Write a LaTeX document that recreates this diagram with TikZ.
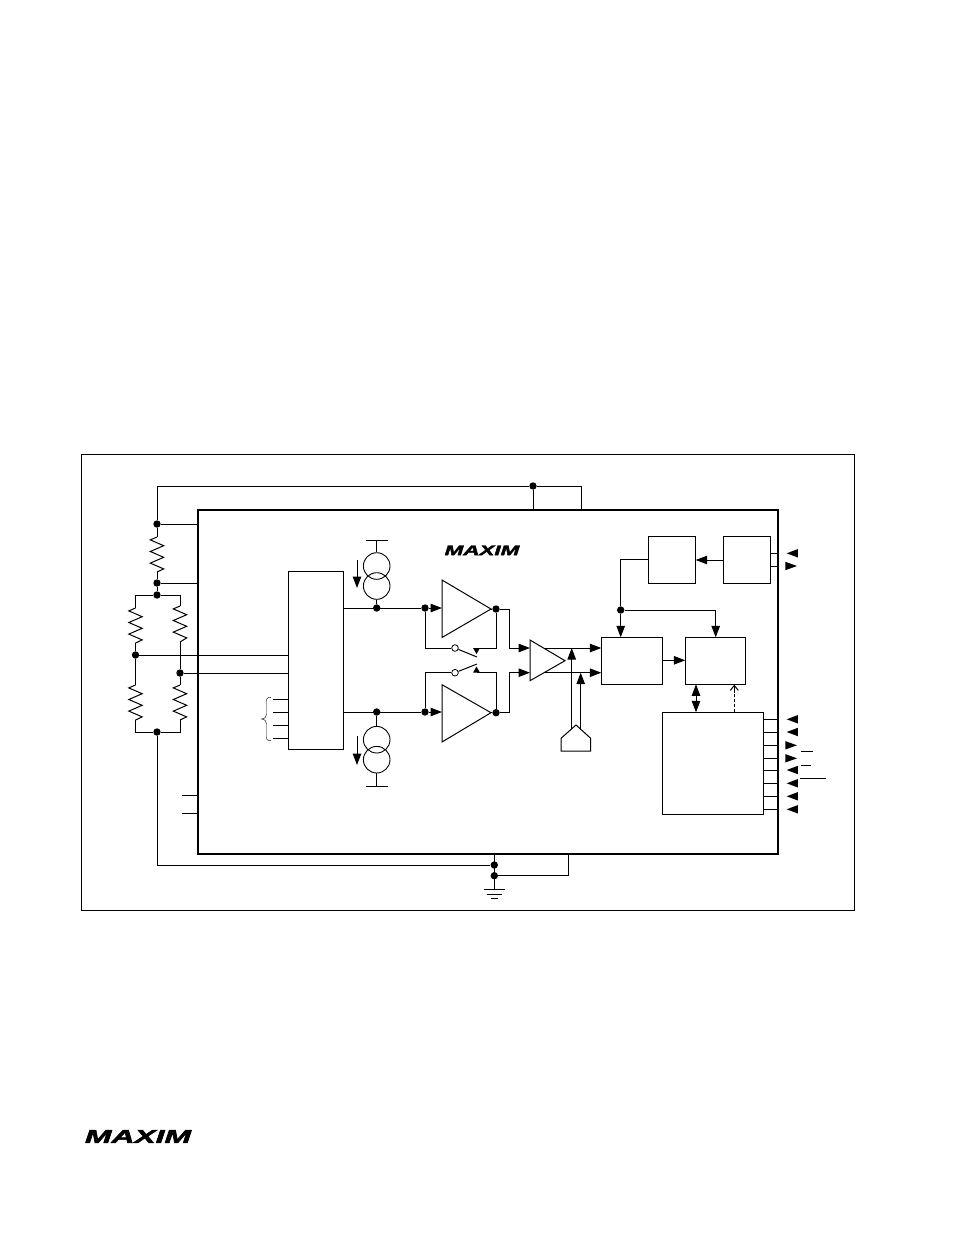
\documentclass[tikz,border=0pt]{standalone}
\usepackage{fontspec}
\setmainfont{Liberation Sans}
\newfontfamily\logofont[UprightFont={* Bold Italic},FakeBold=2.2]{Liberation Sans}
\usetikzlibrary{arrows.meta,calc}
\newcommand{\pinIn}[2][]{\fill (786.7,#2) -- (797.8,#2-4.2) -- (797.8,#2+4.2) -- cycle;}
\newcommand{\pinOut}[2][]{\fill (797,#2) -- (785.3,#2-4.2) -- (785.3,#2+4.2) -- cycle;}
\newcommand{\zig}[3]{% x, y top, y bottom : resistor of six half waves
  \draw[wire] (#1,#2) -- ++(-6.7,2.9) -- ++(13.4,5.8) -- ++(-13.4,5.8) -- ++(13.4,5.8) -- ++(-13.4,5.8) -- ++(13.4,5.8) -- (#1,#3);}
\tikzset{
  x=1pt,y=-1pt,
  wire/.style={line width=1pt,line join=miter},
  chipline/.style={line width=2.2pt},
  blk/.style={draw,line width=1pt,inner sep=0pt,outer sep=0pt,anchor=north west},
  arr/.style={wire,-{Triangle[length=11.5pt,width=8.5pt]}},
  dbl/.style={wire,{Triangle[length=11.5pt,width=8.5pt]}-{Triangle[length=11.5pt,width=8.5pt]}},
  dot/.style={circle,fill,inner sep=0pt,minimum size=7.4pt},
  hollow/.style={circle,draw,fill=white,line width=0.8pt,inner sep=0pt,minimum size=6.6pt},
  thincircle/.style={circle,draw,line width=0.9pt,inner sep=0pt,minimum size=26.6pt},
}
\begin{document}
\begin{tikzpicture}
\useasboundingbox (0,0) rectangle (954,1235);
\node[blk,line width=0.7pt,minimum width=773.5pt,minimum height=456pt] (frame) at (81.1,454) {};
\node[blk,chipline,minimum width=580pt,minimum height=344pt] (chip) at (198,510) {};
\node[blk,minimum width=55.5pt,minimum height=178pt] (mux) at (288,571) {};
\node[blk,minimum width=47.7pt,minimum height=47.3pt] (A) at (648,536) {};
\node[blk,minimum width=47.3pt,minimum height=47.3pt] (B) at (723,536) {};
\node[blk,minimum width=61.4pt,minimum height=47pt] (C) at (601.3,637.3) {};
\node[blk,minimum width=60pt,minimum height=47pt] (D) at (685.3,637.3) {};
\node[blk,minimum width=101.4pt,minimum height=102pt] (E) at (662.3,712.3) {};
% logos
\node (logoA) at (482,550.3) {\fontsize{14}{14}\selectfont\logofont\scalebox{1.6}[1]{MAXIM}};
\node (logoB) at (138,1136.5) {\fontsize{18.5}{18}\selectfont\logofont\scalebox{1.72}[1]{MAXIM}};
% outer sensor wiring
\node[dot] (j1) at (533,486) {};
\node[dot] (j2) at (157,524) {};
\node[dot] (j3) at (157,583) {};
\node[dot] (j4) at (157,595) {};
\node[dot] (j5) at (135.5,655) {};
\node[dot] (j6) at (180,673) {};
\node[dot] (j7) at (157,732) {};
\node[dot] (j8) at (494.3,865) {};
\node[dot] (j9) at (494.3,875.7) {};
\draw[wire] (j2) |- (j1) -| (581,510);
\draw[wire] (j1) -- (533,510);
\draw[wire] (j2) -- (198,524);
\draw[wire] (j3) -- (198,583);
\draw[wire] (j2) -- (157,537) (157,572) -- (j3) -- (j4);
\zig{157}{537}{572}
\draw[wire] (135.5,608) |- (j4) -| (180,606);
\zig{135.5}{608}{643}
\zig{180}{606}{642}
\draw[wire] (135.5,643) -- (j5) -- (135.5,685);
\draw[wire] (180,642) -- (j6) -- (180,685);
\zig{135.5}{685}{720}
\zig{180}{685}{720}
\draw[wire] (135.5,720) |- (j7) -| (180,720);
\draw[wire] (j5) -- (j5 -| mux.west);
\draw[wire] (j6) -- (j6 -| mux.west);
\draw[wire] (j7) |- (j8);
\draw[wire] (j8 |- chip.south) -- (494.3,889);
\draw[wire] (j9) -| (568,854);
\draw[wire] (484,889) -- (505,889) (486.7,894) -- (502.3,894) (490.7,898) -- (498,898);
\draw[wire] (182.3,795) -- (198,795) (182.3,813.3) -- (198,813.3);
% mux stubs and brace
\foreach \yy in {699,712,725,738} \draw[wire] (273,\yy) -- (288,\yy);
\draw[line width=0.4pt] (271,697.3) .. controls (266,697.3) and (266.5,699) .. (266.5,704) -- (266.5,714) .. controls (266.5,717) and (265,718.5) .. (261.5,719) .. controls (265,719.5) and (266.5,721) .. (266.5,724) -- (266.5,734) .. controls (266.5,739) and (266,740.7) .. (271,740.7);
% current sources
\node[thincircle] (s1) at (376.7,566) {};
\node[thincircle] (s2) at (376.7,586) {};
\node[thincircle] (s3) at (376.7,739.7) {};
\node[thincircle] (s4) at (376.7,759.7) {};
\node[dot] (n1) at (376.7,608) {};
\node[dot] (n2) at (376.7,712) {};
\node[dot] (n3) at (425,608) {};
\node[dot] (n4) at (425,712) {};
\draw[wire] (376.7,540) -- (s1.north) (366,540) -- (387.5,540);
\draw[wire] (s2.south) -- (n1);
\draw[wire] (n2) -- (s3.north);
\draw[wire] (s4.south) -- (376.7,786) (366,786) -- (387.5,786);
\draw[arr] (357,560) -- (357,588);
\draw[arr] (357,736) -- (357,765);
\draw[wire] (343.5,608) -- (n3);
\draw[wire] (343.5,712) -- (n4);
% amplifiers
\coordinate (a1in) at (442,608.5);
\coordinate (a2in) at (442,712.5);
\coordinate (a1o) at (491,609);
\coordinate (a2o) at (491,712.7);
\draw[wire] (442,580) -- (a1o) -- (442,637.5) -- cycle;
\draw[wire] (442,684.7) -- (a2o) -- (442,742) -- cycle;
\node[dot] (o1) at (496,609) {};
\node[dot] (o2) at (496,712.7) {};
\draw[arr] (n3) -- (n3 -| a1in);
\draw[arr] (n4) -- (n4 -| a2in);
\draw[wire] (a1o) -- (o1);
\draw[wire] (a2o) -- (o2);
% switches
\node[hollow] (sw1) at (455,648) {};
\node[hollow] (sw2) at (455,672.7) {};
\draw[wire] (n3) |- (sw1);
\draw[wire] (n4) |- (sw2);
\draw[wire] (sw1) -- (477,657);
\draw[wire] (sw2) -- (477,664);
\draw[wire] (o1) |- (476.5,648);
\draw[wire] (o2) |- (476.5,672.7);
\fill (473,648) -- (480,648) -- (476.5,654) -- cycle;
\fill (473,672.7) -- (480,672.7) -- (476.5,666.5) -- cycle;
% gain stage
\coordinate (g1) at (530,640);
\coordinate (g2) at (530,680.7);
\coordinate (g3) at (565,660.7);
\draw[wire] (g1) -- (g3) -- (g2) -- cycle;
\draw[arr] (o1) -| (509,648) -- (530,648);
\draw[arr] (o2) -| (509,672.7) -- (530,672.7);
\draw[arr] (543.5,648) -- (601.3,648);
\draw[arr] (543.5,672.7) -- (601.3,672.7);
% reference
\coordinate (r1) at (561,751);
\coordinate (r2) at (561,738.3);
\coordinate (r3) at (576,725);
\coordinate (r4) at (590.7,738.3);
\coordinate (r5) at (590.7,751);
\draw[wire] (r1) -- (r2) -- (r3) -- (r4) -- (r5) -- cycle;
\draw[arr] (571.7,729) -- (571.7,648);
\draw[arr] (580.7,729.5) -- (580.7,672.7);
% right side blocks
\node[dot] (k) at (620.7,610) {};
\draw[wire] (A.west |- 0,559.5) -| (k);
\draw[arr] (k) -- (k |- C.north);
\draw[arr] (k) -| (715.7,637.3);
\draw[arr] (B.west |- 0,560) -- (A.east |- 0,560);
\draw[arr] (C.east |- 0,660.3) -- (D.west |- 0,660.3);
\draw[dbl] (696,684.3) -- (696,712.3);
\draw[wire,dash pattern=on 3pt off 2pt] (734.3,712.3) -- (734.3,692);
\draw[wire,-{Straight Barb[length=5pt,width=8pt]}] (734.3,692) -- (734.3,684.6);
% pins
\draw[wire] (770.3,553.3) -- (778,553.3) (770.3,566) -- (778,566);
\pinIn{553.3}
\pinOut{566}
\foreach \yy in {719.3,732,745.3,758.3,770,783.3,796.3,809.3} \draw[wire] (763.7,\yy) -- (778,\yy);
\pinIn{719.3}
\pinIn{732}
\pinOut{745.3}
\pinOut{758.3}
\pinIn{770}
\pinIn{783.3}
\pinIn{796.3}
\pinIn{809.3}
\draw[wire] (801,751) -- (812.7,751) (801,765.3) -- (810.7,765.3) (800,778.3) -- (825.7,778.3);
\end{tikzpicture}
\end{document}
